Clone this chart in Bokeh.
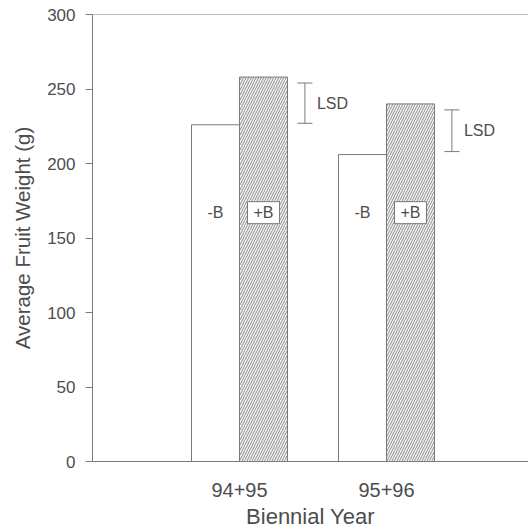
from bokeh.plotting import figure
from bokeh.models import ColumnDataSource, FixedTicker, Span, Whisker, TeeHead, Range1d
from bokeh.transform import dodge
from bokeh.core.properties import value
from bokeh.embed import file_html
from bokeh.resources import INLINE

# ---- data ----
years = ["94+95", "95+96"]
minus_b = [226, 206]          # -B average fruit weight (g)
plus_b = [258, 240]           # +B average fruit weight (g)
lsd_low = [227, 208]
lsd_high = [254, 236]
y_ticks = [0, 50, 100, 150, 200, 250, 300]
bar_labels_minus = ["-B", "-B"]
bar_labels_plus = ["+B", "+B"]

FONT = "Liberation Sans"
TXT = "#4d4d4d"
LINE = "#7a7a7a"
HALF = 0.1633
BAR_W = 0.3265
LSD_OFF = 0.445
LABEL_Y = 167

xpos = [i + 1 for i in range(len(years))]
src = ColumnDataSource(dict(
    x=xpos,
    minus=minus_b,
    plus=plus_b,
    lo=lsd_low,
    hi=lsd_high,
    mid=[(a + b) / 2 for a, b in zip(lsd_low, lsd_high)],
    lsd_x=[x + LSD_OFF for x in xpos],
    lm=bar_labels_minus,
    lp=bar_labels_plus,
))

p = figure(width=528, height=531, x_range=Range1d(0, 2.966), y_range=Range1d(0, 300),
           output_backend="svg", toolbar_location=None,
           min_border_left=92, min_border_right=0, min_border_top=14, min_border_bottom=70)
p.outline_line_color = None
p.xgrid.visible = False
p.ygrid.visible = False
p.background_fill_color = "white"
p.border_fill_color = "white"

# -B bars
p.vbar(x=dodge('x', -HALF, range=p.x_range), top='minus', bottom=0, width=BAR_W,
       fill_color="white", line_color=LINE, line_width=1, source=src)
# +B bars (hatched)
p.vbar(x=dodge('x', HALF, range=p.x_range), top='plus', bottom=0, width=BAR_W,
       fill_color="#f4f4f4", line_color=LINE, line_width=1,
       hatch_pattern="/", hatch_color="#8c8c8c", hatch_scale=5, hatch_weight=1,
       source=src)

# LSD whiskers
w = Whisker(source=src, base='lsd_x', upper='hi', lower='lo', dimension='height',
            line_color=LINE, line_width=1,
            upper_head=TeeHead(size=15, line_color=LINE, line_width=1),
            lower_head=TeeHead(size=15, line_color=LINE, line_width=1))
p.add_layout(w)
p.text(x='lsd_x', y='mid', text=value("LSD"), x_offset=12, source=src,
       text_font=value(FONT), text_font_size="16px", text_color=TXT,
       text_align="left", text_baseline="middle")

# -B / +B labels
p.text(x=dodge('x', -HALF, range=p.x_range), y=LABEL_Y, text='lm', source=src,
       text_font=value(FONT), text_font_size="16px", text_color=TXT,
       text_align="center", text_baseline="middle")
p.rect(x=dodge('x', HALF, range=p.x_range), y=LABEL_Y, width=32, height=22,
       width_units="screen", height_units="screen",
       fill_color="white", line_color=LINE, line_width=1, source=src)
p.text(x=dodge('x', HALF, range=p.x_range), y=LABEL_Y, text='lp', source=src,
       text_font=value(FONT), text_font_size="16px", text_color=TXT,
       text_align="center", text_baseline="middle")

# top border line
p.add_layout(Span(location=300, dimension='width', line_color=LINE, line_width=1))

# axes
xa = p.xaxis[0]
xa.ticker = FixedTicker(ticks=xpos)
xa.major_label_overrides = {x: y for x, y in zip(xpos, years)}
xa.major_tick_out = 0
xa.major_tick_in = 0
xa.minor_tick_out = 0
xa.minor_tick_in = 0
xa.major_label_standoff = 21
xa.axis_label = "Biennial Year"
xa.axis_label_standoff = 4
xa.axis_line_color = LINE
xa.major_label_text_font = FONT
xa.major_label_text_font_size = "20px"
xa.major_label_text_color = TXT
xa.axis_label_text_font = FONT
xa.axis_label_text_font_size = "22px"
xa.axis_label_text_font_style = "normal"
xa.axis_label_text_color = TXT

ya = p.yaxis[0]
ya.ticker = FixedTicker(ticks=y_ticks)
ya.major_tick_out = 7
ya.major_tick_in = 0
ya.minor_tick_out = 0
ya.minor_tick_in = 0
ya.major_tick_line_color = LINE
ya.axis_line_color = LINE
ya.major_label_standoff = 10
ya.axis_label = "Average Fruit Weight (g)"
ya.axis_label_standoff = 10
ya.major_label_text_font = FONT
ya.major_label_text_font_size = "17px"
ya.major_label_text_color = TXT
ya.axis_label_text_font = FONT
ya.axis_label_text_font_size = "20.5px"
ya.axis_label_text_font_style = "normal"
ya.axis_label_text_color = TXT

open("out.html", "w").write(file_html(p, INLINE))
